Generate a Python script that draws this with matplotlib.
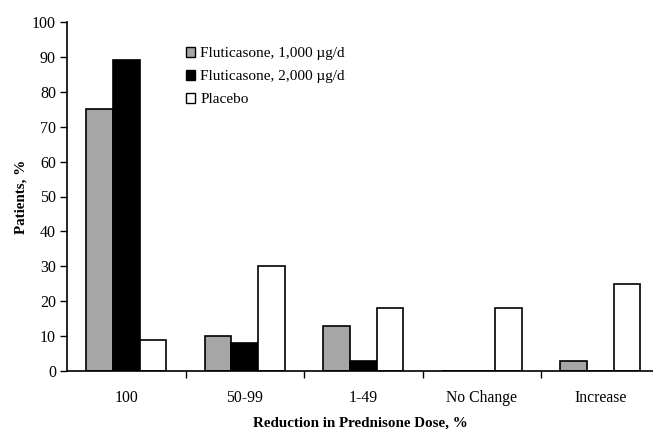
# -*- coding: utf-8 -*-
#------------------------------------------------------------------------------
# Import libraries

import matplotlib
matplotlib.use("Agg")
import matplotlib.pyplot as plt
import numpy as np

#------------------------------------------------------------------------------
# Data

categories = ["100", "50-99", "1-49", "No Change", "Increase"]
series_names = ["Fluticasone, 1,000 \u00b5g/d", "Fluticasone, 2,000 \u00b5g/d", "Placebo"]
fluticasone_1000 = [75, 10, 13, 0, 3]
fluticasone_2000 = [89, 8, 3, 0, 0]
placebo = [9, 30, 18, 18, 25]
y_ticks = [0, 10, 20, 30, 40, 50, 60, 70, 80, 90, 100]

#------------------------------------------------------------------------------

def main():
    plt.rcParams['font.family'] = ['Liberation Serif', 'DejaVu Serif']

    fig = plt.figure(figsize=(6.53, 4.29), dpi=100)
    ax = fig.add_axes([67/653, 58/429, 586/653, 349/429])

    x = np.arange(len(categories))
    w = 0.224
    colors = ["#a6a6a6", "#000000", "#ffffff"]
    values = [fluticasone_1000, fluticasone_2000, placebo]
    for i, (vals, name, c) in enumerate(zip(values, series_names, colors)):
        ax.bar(x + (i - 1) * w, vals, width=w, color=c, edgecolor="black",
               linewidth=1.2, label=name, zorder=2)

    ax.set_ylim(0, 100)
    ax.set_xlim(-0.5, -0.5 + 586 / 118.5)
    ax.set_yticks(y_ticks)
    ax.set_xticks(x)
    ax.set_xticklabels(categories)
    ax.set_xticks(np.arange(0.5, len(categories) - 0.5, 1.0), minor=True)

    ax.tick_params(axis="y", direction="out", length=5, width=1, labelsize=11.5, pad=3)
    ax.tick_params(axis="x", which="major", length=0, labelsize=11.3, pad=14)
    ax.tick_params(axis="x", which="minor", direction="out", length=5, width=1)

    for s in ["top", "right"]:
        ax.spines[s].set_visible(False)
    for s in ["left", "bottom"]:
        ax.spines[s].set_linewidth(1.2)

    ax.set_ylabel("Patients, %", fontsize=10.8, fontweight="bold", labelpad=3)
    ax.set_xlabel("Reduction in Prednisone Dose, %", fontsize=10.8,
                  fontweight="bold", labelpad=7)

    leg = ax.legend(loc="upper left", bbox_to_anchor=(0.19, 0.95), frameon=False,
                    fontsize=11, handlelength=0.62, handleheight=0.62,
                    handletextpad=0.3, labelspacing=0.62, borderpad=0)
    for p in leg.get_patches():
        p.set_linewidth(1.0)

    fig.savefig("out.png", dpi=100)

#------------------------------------------------------------------------------

if __name__ == "__main__":
    main()
